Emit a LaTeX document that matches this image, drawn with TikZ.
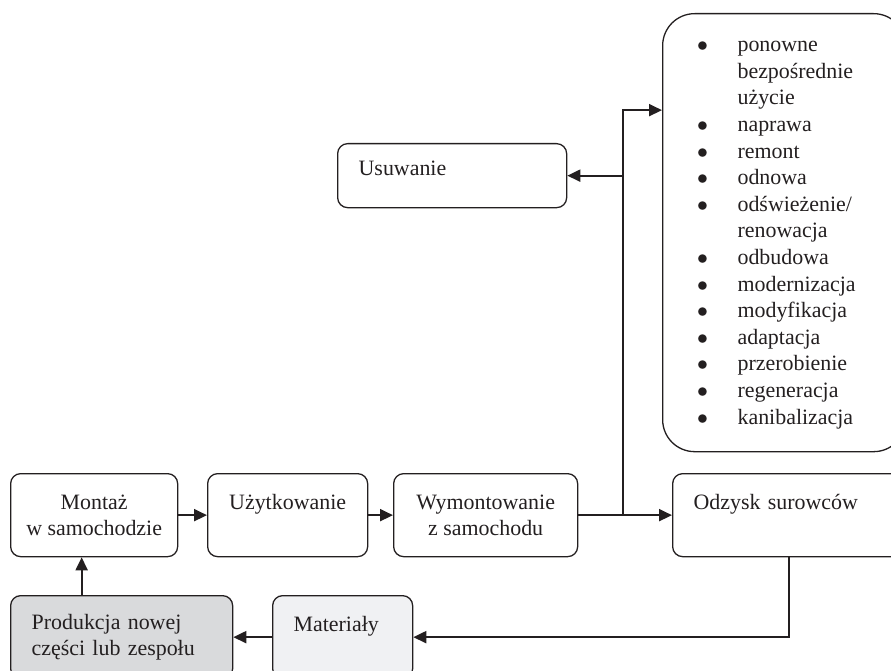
\documentclass[tikz,border=0pt]{standalone}
\usepackage{fontspec}
\setmainfont{Liberation Serif}
\usepackage{tikz}
\usetikzlibrary{arrows.meta, positioning}
\usepackage{xcolor}
\definecolor{liniac}{RGB}{35, 31, 32}
\definecolor{szary}{RGB}{217, 218, 220}
\definecolor{jasnyszary}{RGB}{240, 241, 243}

\begin{document}
\begin{tikzpicture}[x=0.5bp, y=-0.5bp,
  box/.style={draw=liniac, line width=0.65bp, rounded corners=5bp, anchor=north west,
    inner ysep=0pt, minimum height=41.5bp, text=liniac, font=\fontsize{11}{13}\selectfont},
  lbox/.style={box, align=left, inner xsep=10.5bp},
  arr/.style={-{Triangle[length=6.5bp, width=6bp]}, line width=1bp, draw=liniac}]
  \clip (0,0) rectangle (891,671);

  % cykl zycia czesci: gorny rzad
  \node[box, align=center, minimum width=83.5bp] (montaz) at (10,473) {Montaż\\w samochodzie};
  \node[box, align=center, minimum width=80bp] (uzyt) at (207,473) {Użytkowanie\\\mbox{}};
  \node[box, align=center, minimum width=92bp] (wymont) at (393,473) {Wymontowanie\\z samochodu};
  \node[lbox, text width=95.5bp] (odzysk) at (672,473) {Odzysk surowców\\\mbox{}};

  % dolny rzad (ucięty u dolu)
  \node[lbox, fill=szary, text width=90bp] (produkcja) at (10,595) {Produkcja nowej\\części lub zespołu};
  \node[lbox, fill=jasnyszary, text width=49bp] (materialy) at (272,595) {Materiały\\\mbox{}};

  % usuwanie i lista sposobow ponownego uzycia
  \node[lbox, text width=93.5bp, minimum height=32bp, text depth=7bp] (usuw) at (337,143) {Usuwanie};
  \node[box, rounded corners=16bp, align=left, inner xsep=17.25bp, text width=87bp,
    minimum height=219bp, font=\fontsize{11}{13.35}\selectfont] (lista) at (662,13) {%
    \begin{tabular}{@{}c@{\hspace{14.75bp}}l@{}}
      $\bullet$ & ponowne\\
                & bezpośrednie\\
                & użycie\\
      $\bullet$ & naprawa\\
      $\bullet$ & remont\\
      $\bullet$ & odnowa\\
      $\bullet$ & odświeżenie/\\
                & renowacja\\
      $\bullet$ & odbudowa\\
      $\bullet$ & modernizacja\\
      $\bullet$ & modyfikacja\\
      $\bullet$ & adaptacja\\
      $\bullet$ & przerobienie\\
      $\bullet$ & regeneracja\\
      $\bullet$ & kanibalizacja
    \end{tabular}};

  % polaczenia
  \draw[arr] (montaz) -- (uzyt);
  \draw[arr] (uzyt) -- (wymont);
  \draw[arr] (wymont) -- (odzysk);
  \coordinate (rozgal) at ([xshift=22.5bp]wymont.east);
  \coordinate (gora) at ([yshift=202.5bp]rozgal);
  \draw[arr] (rozgal) -- (gora) -- (gora -| lista.west);
  \draw[arr] (rozgal |- usuw.east) -- (usuw.east);
  \draw[arr] (odzysk.south) |- (materialy.east);
  \draw[arr] (materialy) -- (produkcja);
  \coordinate (wejscie) at ([xshift=-20bp]produkcja.north);
  \draw[arr] (wejscie) -- (wejscie |- montaz.south);
\end{tikzpicture}
\end{document}
